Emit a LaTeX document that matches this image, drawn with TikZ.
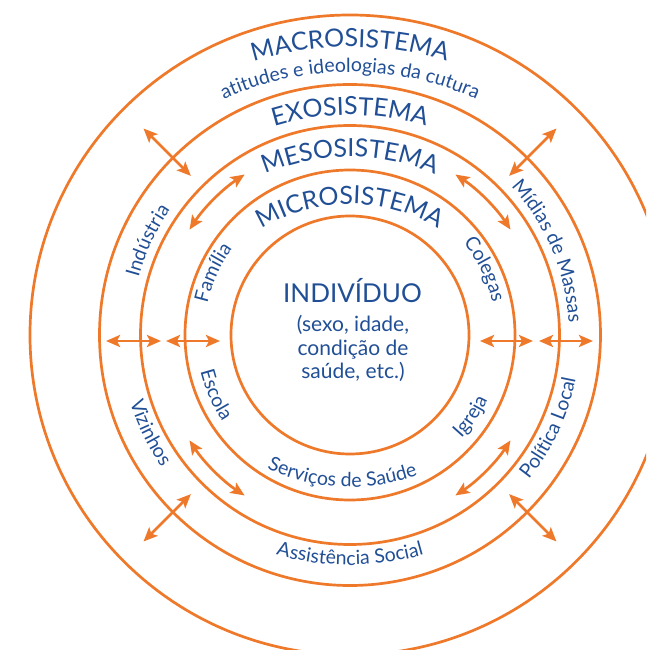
\documentclass[tikz,border=0pt]{standalone}
\usepackage{fontspec}
\setmainfont{Lato}
\usetikzlibrary{arrows.meta,decorations.text}
\definecolor{ringorange}{RGB}{239,121,42}
\definecolor{labelblue}{RGB}{33,79,150}
\newcommand\bigfont{\fontsize{25}{30}\selectfont}
\newcommand\smallfont{\fontsize{19.5}{23}\selectfont}

\begin{document}
\begin{tikzpicture}[x=1pt,y=1pt,
  ring/.style={draw=ringorange, line width=2.7pt},
  link/.style={draw=ringorange, line width=2.7pt,
    {Stealth[length=14pt,width=12pt,inset=3pt]}-{Stealth[length=14pt,width=12pt,inset=3pt]}},
  arclbl/.style={decorate, decoration={text along path, text align=center, text color=labelblue}},
  core/.style={text=labelblue, anchor=base, inner sep=0pt}]
\useasboundingbox (-350,-315) rectangle (296,335);
\clip (-350,-315) rectangle (296,335);

% the five systems
\coordinate (c) at (0,0);
\draw[ring] (c) circle[radius=119pt];
\draw[ring] (c) circle[radius=165pt];
\draw[ring] (c) circle[radius=209.5pt];
\draw[ring] (c) circle[radius=250.5pt];
\draw[ring] (c) circle[radius=320pt];

% ring titles
\path[arclbl, decoration={text={|\bigfont|MACROSISTEMA}}]
  ([shift={(0,-40)}]120:328pt) arc[start angle=120, end angle=60, radius=328pt];
\path[arclbl, decoration={text={|\smallfont|atitudes e ideologias da cutura}}]
  ([shift={(0,-40)}]135:303pt) arc[start angle=135, end angle=45, radius=303pt];
\path[arclbl, decoration={text={|\bigfont|EXOSISTEMA}}]
  ([shift={(0,-40)}]125:260pt) arc[start angle=125, end angle=55, radius=260pt];
\path[arclbl, decoration={text={|\bigfont|MESOSISTEMA}}]
  ([shift={(0,-40)}]130:218pt) arc[start angle=130, end angle=50, radius=218pt];
\path[arclbl, decoration={text={|\bigfont|MICROSISTEMA}}]
  ([shift={(0,-40)}]140:171pt) arc[start angle=140, end angle=40, radius=171pt];

% settings, upper half
\path[arclbl, decoration={text={|\smallfont|Indústria}}]
  (190:219pt) arc[start angle=190, end angle=120, radius=219pt];
\path[arclbl, decoration={text={|\smallfont|Família}}]
  (195.5:146pt) arc[start angle=195.5, end angle=115.5, radius=146pt];
\path[arclbl, decoration={text={|\smallfont|Colegas}}]
  (66:146pt) arc[start angle=66, end angle=-14, radius=146pt];
\path[arclbl, decoration={text={|\smallfont|Mídias de Massas}}]
  (58:219pt) arc[start angle=58, end angle=-12, radius=219pt];

% settings, lower half
\path[arclbl, decoration={text={|\smallfont|Escola}}]
  (164:154pt) arc[start angle=164, end angle=244, radius=154pt];
\path[arclbl, decoration={text={|\smallfont|Vizinhos}}]
  (171:230pt) arc[start angle=171, end angle=241, radius=230pt];
\path[arclbl, decoration={text={|\smallfont|Igreja}}]
  (286:152pt) arc[start angle=286, end angle=366, radius=152pt];
\path[arclbl, decoration={text={|\smallfont|Política Local}}]
  (300:230pt) arc[start angle=300, end angle=370, radius=230pt];
\path[arclbl, decoration={text={|\smallfont|Serviços de Saúde}}]
  ([shift={(0,40)}]227.5:192pt) arc[start angle=227.5, end angle=307.5, radius=192pt];
\path[arclbl, decoration={text={|\smallfont|Assistência Social}}]
  ([shift={(0,40)}]235:270pt) arc[start angle=235, end angle=305, radius=270pt];

% the individual
\node[core, font=\fontsize{26}{30}\selectfont] (ind) at (2.5,32) {INDIVÍDUO};
\node[core, font=\fontsize{21}{24}\selectfont] (ind1) at (3,3) {(sexo, idade,};
\node[core, font=\fontsize{21}{24}\selectfont] (ind2) at (3,-21) {condição de};
\node[core, font=\fontsize{21}{24}\selectfont] (ind3) at (3,-44) {saúde, etc.)};

% horizontal exchanges
\coordinate (hl1) at (-244,-6); \coordinate (hl2) at (-189,-6);
\coordinate (hl3) at (-184,-6); \coordinate (hl4) at (-130,-6);
\coordinate (hr1) at (130,-6);  \coordinate (hr2) at (183,-6);
\coordinate (hr3) at (189,-6);  \coordinate (hr4) at (243,-6);
\draw[link] (hl1) -- (hl2);
\draw[link] (hl3) -- (hl4);
\draw[link] (hr1) -- (hr2);
\draw[link] (hr3) -- (hr4);

% diagonal exchanges across the exosystem
\foreach \a in {45,135,225,315}{
  \coordinate (dout\a) at (\a:292pt);
  \coordinate (din\a) at (\a:225pt);
  \draw[link] (dout\a) -- (din\a);
}

% curved exchanges inside the mesosystem
\foreach \a in {45,135,225,315}{
  \draw[link] (\a-11.7:192pt) arc[start angle=\a-11.7, end angle=\a+11.7, radius=192pt];
}
\end{tikzpicture}
\end{document}
